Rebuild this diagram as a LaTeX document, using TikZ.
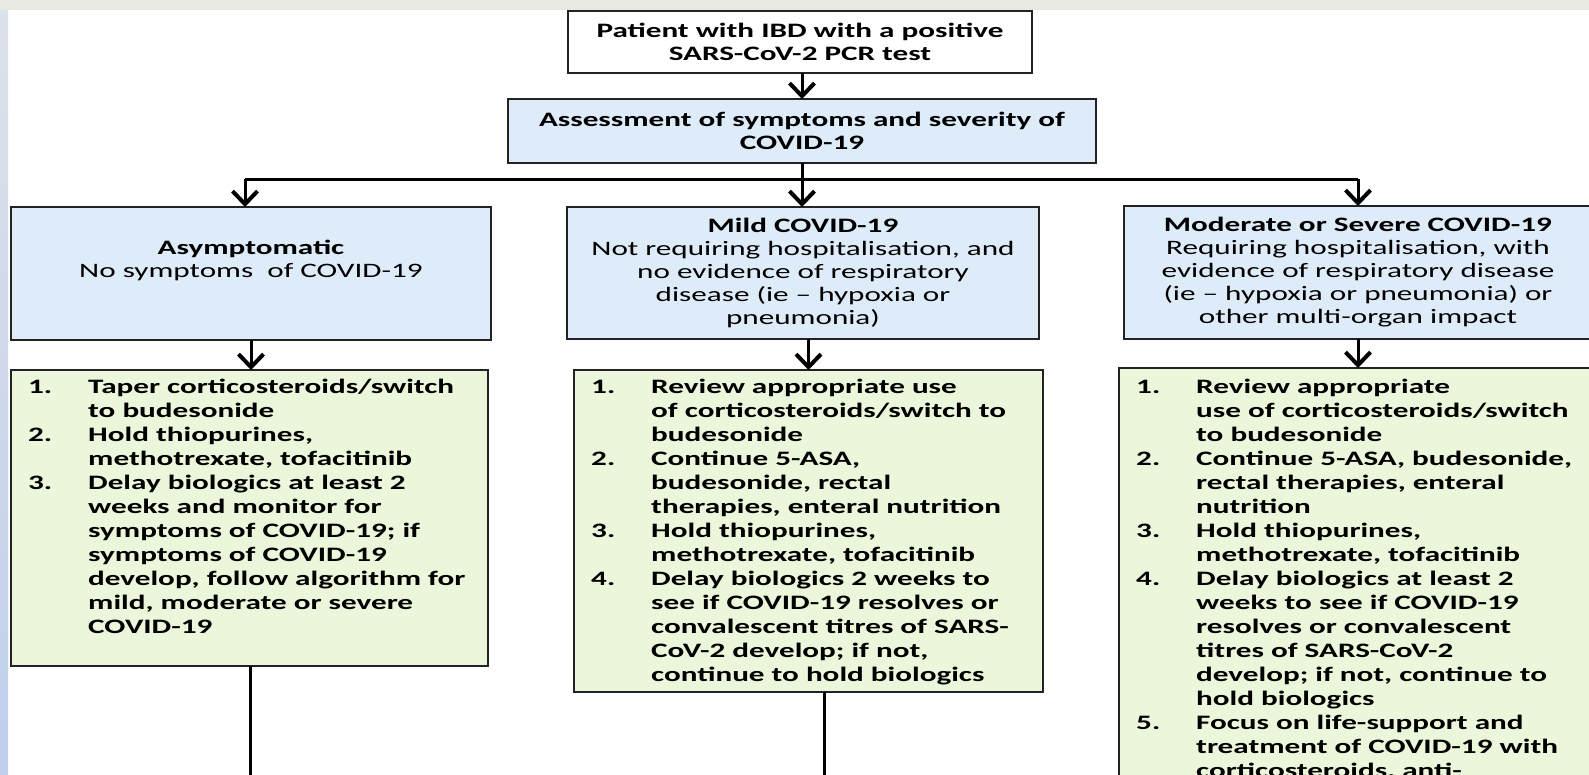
\documentclass[tikz,border=0pt]{standalone}
\usepackage{fontspec}
\setmainfont{Carlito}[FakeStretch=1.52]
\usetikzlibrary{arrows.meta}

\definecolor{boxblue}{RGB}{222,235,248}
\definecolor{boxgreen}{RGB}{235,246,218}
\definecolor{stripgray}{RGB}{233,233,228}
\definecolor{stripbluetop}{RGB}{221,226,234}
\definecolor{stripblue}{RGB}{192,207,236}
\definecolor{edge}{RGB}{35,35,35}

% list helpers: number column and continuation indent
\newcommand{\itm}[1]{\makebox[60pt][l]{#1}}
\newcommand{\cnt}{\hspace*{60pt}}

\begin{document}
\begin{tikzpicture}[x=1pt,y=-1pt,
  txt/.style={font=\fontsize{20.5}{23}\selectfont},
  boxbase/.style={draw=edge, line width=2.6pt, outer sep=0pt, inner sep=0pt, align=center, txt},
  whitebox/.style={boxbase, fill=white},
  bluebox/.style={boxbase, fill=boxblue},
  greenbox/.style={boxbase, fill=boxgreen, anchor=north west},
  listtext/.style={font=\fontsize{20.5}{24}\selectfont\bfseries, align=left, anchor=north west, inner sep=0pt},
  link/.style={line width=3pt, draw=black},
  arr/.style={link, -{Straight Barb[length=13pt,width=25pt,line width=4pt]}},
]
\useasboundingbox (0,0) rectangle (1589,774);
\clip (0,0) rectangle (1589,774);

% page background
\fill[white] (0,0) rectangle (1589,774);
\fill[stripgray] (0,0) rectangle (1589,10);
\shade[top color=stripbluetop, bottom color=stripblue] (0,10) rectangle (8,774);

% top of the algorithm
\node[whitebox, minimum width=464pt, minimum height=62pt] (pcr) at (800,42)
  {\bfseries Patient with IBD with a positive\\\bfseries SARS-CoV-2 PCR test};
\node[bluebox, minimum width=588pt, minimum height=64pt] (assess) at (802,131)
  {\bfseries Assessment of symptoms and severity of\\\bfseries COVID-19};

% severity categories
\node[bluebox, minimum width=480pt, minimum height=133pt] (asym) at (251,273.5)
  {\bfseries Asymptomatic\\No symptoms\ \ of COVID-19\\\strut};
\node[bluebox, minimum width=472pt, minimum height=132pt] (mild) at (803,273)
  {\bfseries Mild COVID-19\\Not requiring hospitalisation, and\\no evidence of respiratory\\disease (ie -- hypoxia or\\pneumonia)};
\node[bluebox, minimum width=468pt, minimum height=133pt] (severe) at (1358,272.5)
  {\bfseries Moderate or Severe COVID-19\\Requiring hospitalisation, with\\evidence of respiratory disease\\(ie -- hypoxia or pneumonia) or\\other multi-organ impact};

% management boxes
\node[greenbox, minimum width=477pt, minimum height=296pt] (gL) at (11,370) {};
\node[greenbox, minimum width=469pt, minimum height=322pt] (gM) at (574,370) {};
\node[greenbox, minimum width=481pt, minimum height=432pt] (gR) at (1119,368) {};

\node[listtext] (tL) at (28,376) {%
  \strut\itm{1.}Taper corticosteroids/switch\\
  \cnt to budesonide\\
  \itm{2.}Hold thiopurines,\\
  \cnt methotrexate, tofacitinib\\
  \itm{3.}Delay biologics at least 2\\
  \cnt weeks and monitor for\\
  \cnt symptoms of COVID-19; if\\
  \cnt symptoms of COVID-19\\
  \cnt develop, follow algorithm for\\
  \cnt mild, moderate or severe\\
  \cnt COVID-19};

\node[listtext] (tM) at (591,376) {%
  \strut\itm{1.}Review appropriate use\\
  \cnt of corticosteroids/switch to\\
  \cnt budesonide\\
  \itm{2.}Continue 5-ASA,\\
  \cnt budesonide, rectal\\
  \cnt therapies, enteral nutrition\\
  \itm{3.}Hold thiopurines,\\
  \cnt methotrexate, tofacitinib\\
  \itm{4.}Delay biologics 2 weeks to\\
  \cnt see if COVID-19 resolves or\\
  \cnt convalescent titres of SARS-\\
  \cnt CoV-2 develop; if not,\\
  \cnt continue to hold biologics};

\node[listtext] (tR) at (1136,376) {%
  \strut\itm{1.}Review appropriate\\
  \cnt use of corticosteroids/switch\\
  \cnt to budesonide\\
  \itm{2.}Continue 5-ASA, budesonide,\\
  \cnt rectal therapies, enteral\\
  \cnt nutrition\\
  \itm{3.}Hold thiopurines,\\
  \cnt methotrexate, tofacitinib\\
  \itm{4.}Delay biologics at least 2\\
  \cnt weeks to see if COVID-19\\
  \cnt resolves or convalescent\\
  \cnt titres of SARS-CoV-2\\
  \cnt develop; if not, continue to\\
  \cnt hold biologics\\
  \itm{5.}Focus on life-support and\\
  \cnt treatment of COVID-19 with\\
  \cnt corticosteroids, anti-};

% branching connectors
\coordinate (busL) at (245,179);
\coordinate (busM) at (802,179);
\coordinate (busR) at (1358,179);
\draw[arr] (pcr.south -| assess.north) -- (assess.north);
\draw[link] (assess.south) -- (busM);
\draw[link] (busL) -- (busR);
\draw[arr] (busL) -- (busL |- asym.north);
\draw[arr] (busM) -- (busM |- mild.north);
\draw[arr] (busR) -- (busR |- severe.north);

\draw[arr] (asym.south) -- (asym.south |- gL.north);
\draw[arr] (gM.north |- mild.south) -- (gM.north);
\draw[arr] (severe.south) -- (severe.south |- gR.north);

% lines continuing below the visible area
\coordinate (endL) at (250,790);
\coordinate (endM) at (824,790);
\draw[link] (gL.south -| endL) -- (endL);
\draw[link] (gM.south -| endM) -- (endM);
\end{tikzpicture}
\end{document}
